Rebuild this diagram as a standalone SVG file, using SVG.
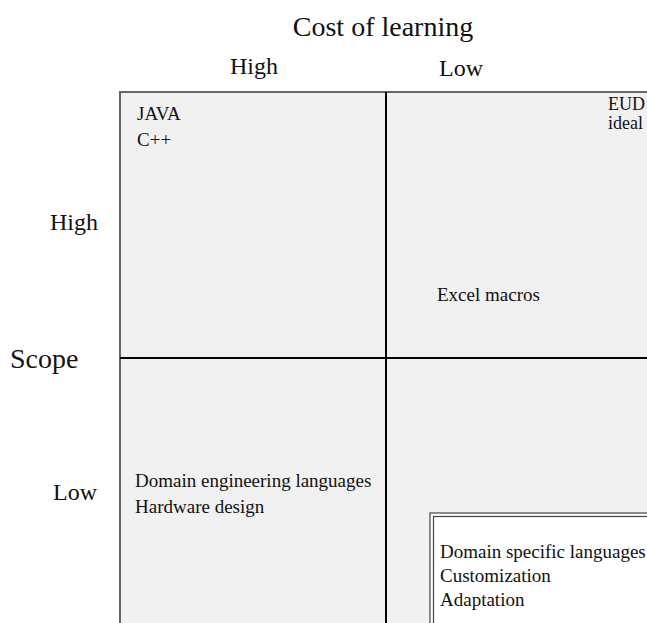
<svg xmlns="http://www.w3.org/2000/svg" width="647" height="623" viewBox="0 0 647 623">
<style>
text{font-family:"Liberation Serif","Times New Roman",serif;fill:#111}
.ax{font-size:28px}
.lv{font-size:24px}
.it{font-size:19px}
.sm{font-size:18px}
</style>
<rect width="647" height="623" fill="#fff"/>
<g id="axes">
<text class="ax" x="383" y="36" text-anchor="middle">Cost of learning</text>
<text class="lv" x="254" y="74" text-anchor="middle">High</text>
<text class="lv" x="461" y="76" text-anchor="middle">Low</text>
<text class="lv" x="98" y="230" text-anchor="end">High</text>
<text class="ax" x="10" y="368">Scope</text>
<text class="lv" x="97" y="500" text-anchor="end">Low</text>
</g>
<g id="grid">
<rect x="120" y="92" width="540" height="545" fill="#f1f1f1" stroke="#666" stroke-width="2"/>
</g>
<g id="connectors" stroke="#000" stroke-width="2" fill="none">
<line x1="386" y1="92" x2="386" y2="623"/>
<line x1="120" y1="358" x2="647" y2="358"/>
</g>
<g id="q-high-high">
<text class="it" x="137" y="120">JAVA</text>
<text class="it" x="137" y="146">C++</text>
</g>
<g id="q-high-low">
<text class="sm" x="608" y="110">EUD</text>
<text class="sm" x="608" y="129">ideal</text>
<text class="it" x="437" y="301">Excel macros</text>
</g>
<g id="q-low-high">
<text class="it" x="135" y="487">Domain engineering languages</text>
<text class="it" x="135" y="513">Hardware design</text>
</g>
<g id="q-low-low">
<rect x="430" y="513" width="230" height="120" fill="#fff" stroke="#444" stroke-width="1.2"/>
<rect x="433.5" y="516.5" width="230" height="120" fill="none" stroke="#444" stroke-width="1.2"/>
<text class="it" x="440" y="558">Domain specific languages</text>
<text class="it" x="440" y="582">Customization</text>
<text class="it" x="440" y="606">Adaptation</text>
</g>
</svg>
